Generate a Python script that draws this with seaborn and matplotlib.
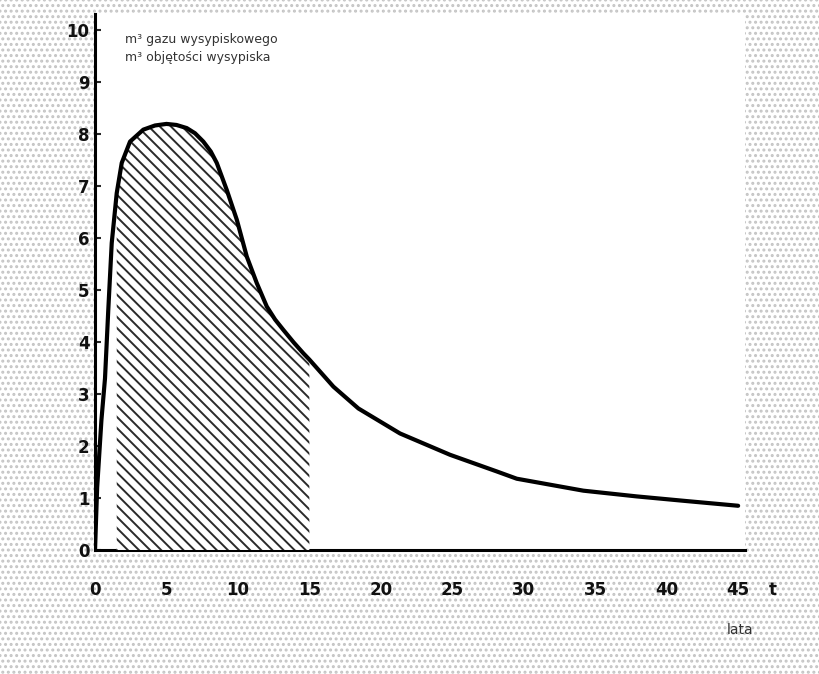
import matplotlib
matplotlib.use("Agg")
import matplotlib.pyplot as plt
import seaborn as sns
import numpy as np
import pandas as pd
from matplotlib.patches import Rectangle

# data
years = [0, 0.15, 0.45, 0.7, 0.93, 1.17, 1.52, 1.87, 2.45, 3.38, 4.2, 5.0,
         5.7, 6.42, 7.0, 7.58, 8.1, 8.52, 9.22, 9.92, 10.62, 11.32, 12.02,
         12.6, 13.18, 13.9, 14.58, 15.0, 16.68, 18.43, 21.34, 24.84, 28.11,
         29.51, 34.17, 37.9, 41.4, 45]
gas = [0, 1.2, 2.5, 3.3, 4.62, 5.9, 6.86, 7.44, 7.85, 8.08, 8.16, 8.19,
       8.17, 8.11, 8.01, 7.85, 7.66, 7.44, 6.92, 6.35, 5.64, 5.13, 4.68,
       4.43, 4.23, 3.99, 3.78, 3.66, 3.14, 2.72, 2.24, 1.83, 1.51,
       1.37, 1.14, 1.03, 0.94, 0.85]
shade_start, shade_end = 1.52, 15.0
x_ticks = [0, 5, 10, 15, 20, 25, 30, 35, 40, 45]
y_ticks = [0, 1, 2, 3, 4, 5, 6, 7, 8, 9, 10]
label_top = "m³ gazu wysypiskowego"
label_bottom = "m³ objętości wysypiska"
x_var = "t"
x_unit = "lata"

sns.set_theme(style="white")
plt.rcParams['font.family'] = ['DejaVu Sans']
plt.rcParams['hatch.linewidth'] = 1.4

df = pd.DataFrame({"t": years, "v": gas})

fig = plt.figure(figsize=(8.19, 6.74), dpi=100)
fig.patch.set_facecolor("white")
bg = Rectangle((0, 0), 1, 1, transform=fig.transFigure, facecolor="white",
               edgecolor="#c4c4c4", hatch="...", linewidth=0, zorder=-10)
fig.patches.append(bg)

ax = fig.add_axes([0.116, 0.184, 0.794, 0.795])
ax.set_facecolor("white")

sns.lineplot(data=df, x="t", y="v", ax=ax, color="black", linewidth=3.0,
             zorder=5)

mask = (df["t"] >= shade_start) & (df["t"] <= shade_end)
ax.fill_between(df["t"][mask], 0, df["v"][mask], facecolor="white",
                edgecolor="#2a2a2a", hatch="\\" * 3, linewidth=0, zorder=3)

ax.set_xlim(0, 45.5)
ax.set_ylim(0, 10.3)
ax.set_xticks(x_ticks)
ax.set_yticks(y_ticks)
ax.set_xlabel("")
ax.set_ylabel("")
for s in ["top", "right"]:
    ax.spines[s].set_visible(False)
ax.spines["left"].set_linewidth(2.2)
ax.spines["bottom"].set_linewidth(2.2)
ax.spines["left"].set_color("black")
ax.spines["bottom"].set_color("black")
ax.tick_params(axis="x", length=0, pad=22, labelsize=12, labelcolor="#111111")
ax.tick_params(axis="y", length=4, width=1.5, direction="in", left=True,
               pad=4, labelsize=12, labelcolor="#111111")
for lab in ax.get_xticklabels() + ax.get_yticklabels():
    lab.set_fontweight("bold")

fig.text(125 / 819, 1 - 40 / 674, label_top, fontsize=9, color="#333333",
         va="center", ha="left")
fig.text(125 / 819, 1 - 57 / 674, label_bottom, fontsize=9, color="#333333",
         va="center", ha="left")
fig.text(773 / 819, 1 - 590 / 674, x_var, fontsize=12, fontweight="bold",
         color="#111111", ha="center", va="center")
fig.text(740 / 819, 1 - 630 / 674, x_unit, fontsize=10, color="#333333",
         ha="center", va="center")

fig.savefig("out.png", dpi=100)
